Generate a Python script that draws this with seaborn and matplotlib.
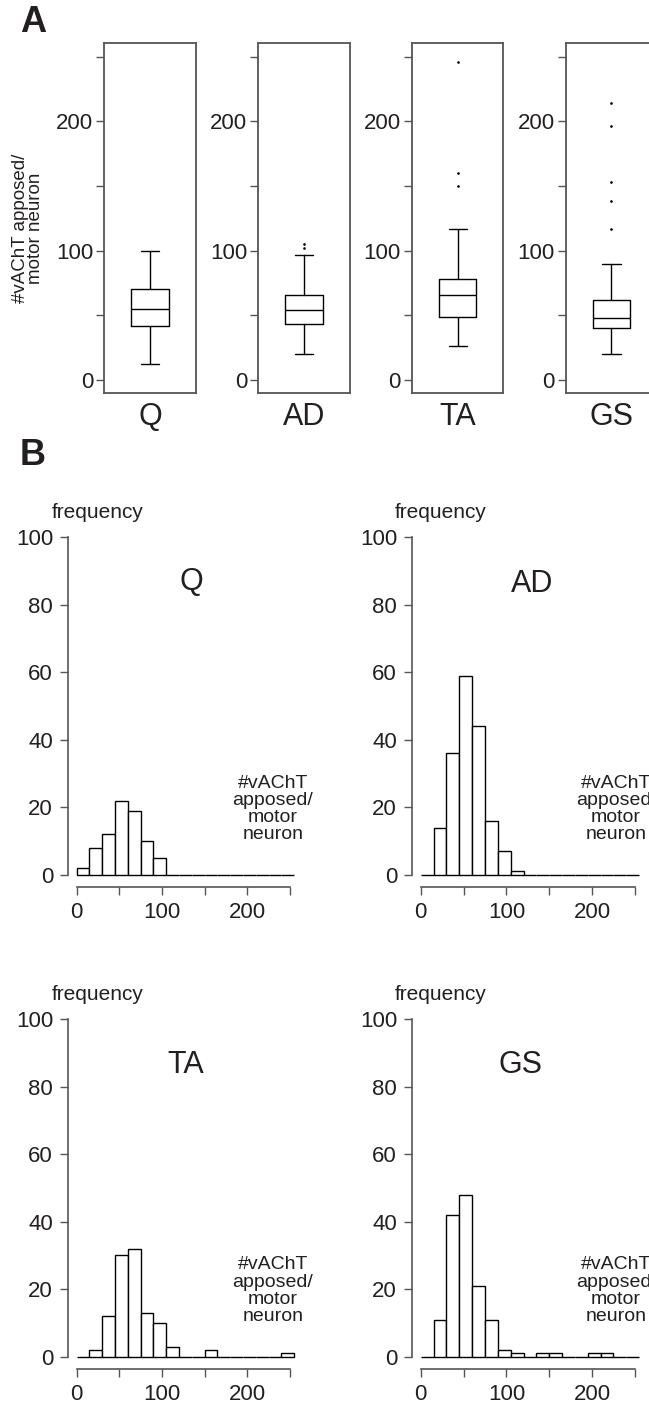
import matplotlib
matplotlib.use("Agg")
import matplotlib.pyplot as plt
import numpy as np
import seaborn as sns

# ---------------- data ----------------
muscles = ["Q", "AD", "TA", "GS"]

# box summaries (number of vAChT boutons apposed per motor neuron)
box_whislo = [12, 20, 26, 20]
box_q1 = [42, 43, 49, 40]
box_med = [55, 54, 66, 48]
box_q3 = [70, 66, 78, 62]
box_whishi = [100, 97, 117, 90]
box_fliers = [[], [102, 105], [150, 160, 246], [117, 138, 153, 196, 214]]

# histogram: 15-wide bins from 0 to 255
bin_edges = list(range(0, 256, 15))
counts_Q = [2, 8, 12, 22, 19, 10, 5, 0, 0, 0, 0, 0, 0, 0, 0, 0, 0]
counts_AD = [0, 14, 36, 59, 44, 16, 7, 1, 0, 0, 0, 0, 0, 0, 0, 0, 0]
counts_TA = [0, 2, 12, 30, 32, 13, 10, 3, 0, 0, 2, 0, 0, 0, 0, 0, 1]
counts_GS = [0, 11, 42, 48, 21, 11, 2, 1, 0, 1, 1, 0, 0, 1, 1, 0, 0]
hist_counts = [counts_Q, counts_AD, counts_TA, counts_GS]

box_yticks = [0, 50, 100, 150, 200, 250]
box_yticklabels = ["0", "", "100", "", "200", ""]
hist_xticks = [0, 50, 100, 150, 200, 250]
hist_xticklabels = ["0", "", "100", "", "200", ""]
hist_yticks = [0, 20, 40, 60, 80, 100]

ylabel_text = "#vAChT apposed/\nmotor neuron"
hist_note = "#vAChT\napposed/\nmotor\nneuron"

# ---------------- style ----------------
sns.set_theme(style="ticks")
INK = "#231f20"
SPINE = "#555555"
plt.rcParams["font.family"] = ["Liberation Sans", "DejaVu Sans"]
plt.rcParams["text.color"] = INK
plt.rcParams["xtick.color"] = INK
plt.rcParams["ytick.color"] = INK
plt.rcParams["axes.labelcolor"] = INK

W, H = 649, 1407
fig = plt.figure(figsize=(W / 100, H / 100), dpi=100)


def rect(left, top, right, bottom):
    return [left / W, 1 - bottom / H, (right - left) / W, (bottom - top) / H]


# ---------------- A: box plots ----------------
box_lefts = [104.4, 258.2, 412.0, 565.8]
box_w = 91.3
for i, name in enumerate(muscles):
    ax = fig.add_axes(rect(box_lefts[i], 43.3, box_lefts[i] + box_w, 393.3))
    stats = dict(
        whislo=box_whislo[i], q1=box_q1[i], med=box_med[i],
        q3=box_q3[i], whishi=box_whishi[i], fliers=box_fliers[i],
    )
    line = dict(color="black", linewidth=1.0)
    ax.bxp(
        [stats], positions=[0.5], widths=0.41, capwidths=0.2,
        boxprops=line, medianprops=line, whiskerprops=line, capprops=line,
        flierprops=dict(marker="o", markersize=1.9, markerfacecolor="black",
                        markeredgewidth=0, linestyle="none"),
        manage_ticks=False,
    )
    ax.set_xlim(0, 1)
    ax.set_ylim(-10.3, 260.3)
    ax.set_xticks([])
    ax.set_yticks(box_yticks)
    ax.set_yticklabels(box_yticklabels)
    ax.tick_params(axis="y", direction="out", length=5.5, width=1.0,
                   pad=2.5, labelsize=16, color=SPINE)
    for sp in ax.spines.values():
        sp.set_visible(True)
        sp.set_color(SPINE)
        sp.set_linewidth(1.3)
    ax.text(0.5, -0.068, name, transform=ax.transAxes, ha="center",
            va="center", fontsize=22)

fig.text(28 / W, 1 - 228 / H, ylabel_text, rotation=90, ha="center",
         va="center", fontsize=13.5, linespacing=0.9, multialignment="center")

# ---------------- B: histograms ----------------
centers = [(a + b) / 2 for a, b in zip(bin_edges[:-1], bin_edges[1:])]
hist_rects = [
    (76.7, 537.3, 294.2, 874.8),
    (420.7, 537.3, 639.2, 874.8),
    (76.7, 1019.0, 294.2, 1356.7),
    (420.7, 1019.0, 639.2, 1356.7),
]
title_pos = [(134.8, 86.8), (130.2, 86.1), (127.3, 86.4), (115.9, 86.4)]
note_x = [230, 228, 230, 228]

for i, name in enumerate(muscles):
    ax = fig.add_axes(rect(*hist_rects[i]))
    sns.histplot(x=centers, weights=hist_counts[i], bins=bin_edges, ax=ax,
                 stat="count", color="white", edgecolor="black",
                 linewidth=1.0, alpha=1.0)
    for p in ax.patches:
        p.set_clip_on(False)
    ax.set_xlim(0, 255)
    ax.set_ylim(0, 100)
    ax.set_xlabel("")
    ax.set_ylabel("")
    ax.set_xticks(hist_xticks)
    ax.set_xticklabels(hist_xticklabels)
    ax.set_yticks(hist_yticks)
    sns.despine(ax=ax, offset={"left": 6.5, "bottom": 9.1})
    ax.spines["left"].set_bounds(0, 100)
    ax.spines["bottom"].set_bounds(0, 250)
    for side in ("left", "bottom"):
        ax.spines[side].set_color(SPINE)
        ax.spines[side].set_linewidth(1.2)
    ax.tick_params(axis="both", direction="out", length=6, width=1.0,
                   pad=4.5, labelsize=16, color=SPINE)
    ax.text(-0.117, 1.073, "frequency", transform=ax.transAxes, ha="left",
            va="center", fontsize=15)
    tx, ty = title_pos[i]
    ax.text(tx, ty, name, ha="center", va="center", fontsize=22)
    ax.text(note_x[i], 19.5, hist_note, ha="center", va="center",
            fontsize=14, linespacing=1.02, multialignment="center")

fig.text(33 / W, 1 - 22.5 / H, "A", fontsize=26, fontweight="bold",
         ha="center", va="center")
fig.text(33 / W, 1 - 455.5 / H, "B", fontsize=26, fontweight="bold",
         ha="center", va="center")

fig.savefig("out.png", dpi=100)
